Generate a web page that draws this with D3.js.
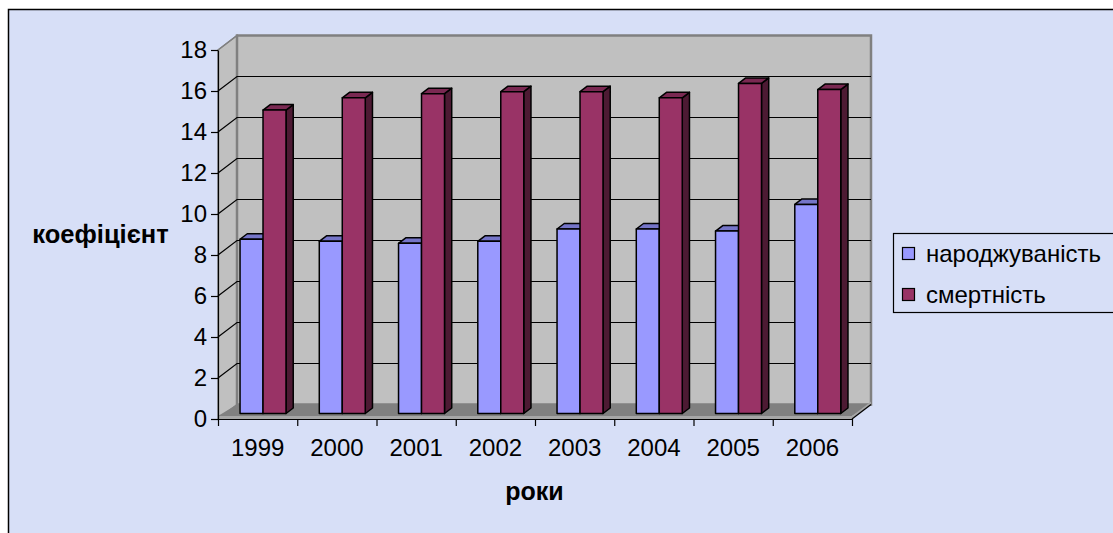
<!DOCTYPE html>
<html>
<head>
<meta charset="utf-8">
<script src="https://cdn.jsdelivr.net/npm/d3@7"></script>
<style>
  body { margin: 0; background: #fff; }
  svg { display: block; font-family: Arial, "Liberation Sans", sans-serif; }
</style>
</head>
<body>
<svg id="chart" width="1113" height="533"></svg>
<script>
var years = ['1999', '2000', '2001', '2002', '2003', '2004', '2005', '2006'];
var births = [8.5, 8.4, 8.3, 8.4, 9.0, 9.0, 8.9, 10.2];
var deaths = [14.8, 15.4, 15.6, 15.7, 15.7, 15.4, 16.1, 15.8];
var yTicks = [0, 2, 4, 6, 8, 10, 12, 14, 16, 18];
var seriesNames = ['народжуваність', 'смертність'];

var svg = d3.select('#chart');
var dep = [19, -14.5]; // depth vector of the 3D box
var fs = 24;

// chart area
svg.append('rect')
  .attr('x', 8.5).attr('y', 9.5).attr('width', 1200).attr('height', 600)
  .attr('fill', '#d7dff7').attr('stroke', '#000').attr('stroke-width', 1.5);

var x = d3.scaleBand().domain(years).range([218, 852]).padding(0);
var y = d3.scaleLinear().domain([0, 18]).range([419, 50]);

function P(px, py, f) { return [px + f * dep[0], py + f * dep[1]]; }
function poly(pts) { return 'M' + pts.map(function(p){ return p.join(','); }).join('L') + 'Z'; }

var x0 = x.range()[0], x1 = x.range()[1], yb = y(0), yt = y(18);

// left wall
svg.append('path')
  .attr('d', poly([P(x0, yt, 0), P(x0, yt, 1), P(x0, yb, 1), P(x0, yb, 0)]))
  .attr('fill', '#c0c0c0').attr('stroke', '#808080').attr('stroke-width', 1.5);
// back wall
svg.append('path')
  .attr('d', poly([P(x0, yt, 1), P(x1, yt, 1), P(x1, yb, 1), P(x0, yb, 1)]))
  .attr('fill', '#c0c0c0').attr('stroke', '#808080').attr('stroke-width', 2.5);

// gridlines
var grid = svg.append('g').attr('stroke', '#000').attr('stroke-width', 1.2);
yTicks.filter(function(t){ return t > 0 && t < 18; }).forEach(function(t) {
  var a = P(x0, y(t), 0), b = P(x0, y(t), 1), c = P(x1, y(t), 1);
  grid.append('path').attr('d', 'M' + a + 'L' + b + 'L' + c).attr('fill', 'none');
});
svg.append('path').attr('d', 'M' + P(x0, yt, 0) + 'L' + P(x0, yt, 1))
  .attr('stroke', '#808080').attr('stroke-width', 1.2);

// floor
svg.append('path')
  .attr('d', poly([P(x0, yb - 3, 0), P(x1, yb - 3, 0), P(x1, yb, 1), P(x0, yb, 1)]))
  .attr('fill', '#808080');
svg.append('path')
  .attr('d', poly([P(x0, yb, 0), P(x1, yb, 0), P(x1, yb, 1), P(x1, yb - 3, 1), P(x1, yb - 3, 0), P(x0, yb - 3, 0)]))
  .attr('fill', '#a6a6a6');
svg.append('path').attr('d', 'M' + P(x1, yb, 0) + 'L' + P(x1, yb, 1))
  .attr('stroke', '#000').attr('stroke-width', 1.2);

// bars
var f0 = 0.38, f1 = 0.76;
var bw = x.bandwidth() * 0.29;
var series = [
  { name: seriesNames[0], values: births, front: '#9999ff', top: '#7575c8', side: '#5a5aa0', off: 0.187 },
  { name: seriesNames[1], values: deaths, front: '#993366', top: '#7a2952', side: '#4d1a33', off: 0.187 + 0.29 }
];
var bars = svg.append('g').attr('stroke', '#000').attr('stroke-width', 1.5).attr('stroke-linejoin', 'round');
years.forEach(function(yr, i) {
  series.forEach(function(s) {
    var bx = x(yr) + x.bandwidth() * s.off;
    var by = y(s.values[i]);
    var g = bars.append('g');
    g.append('path').attr('fill', s.side)
      .attr('d', poly([P(bx + bw, by, f0), P(bx + bw, by, f1), P(bx + bw, yb, f1), P(bx + bw, yb, f0)]));
    g.append('path').attr('fill', s.top)
      .attr('d', poly([P(bx, by, f0), P(bx, by, f1), P(bx + bw, by, f1), P(bx + bw, by, f0)]));
    g.append('path').attr('fill', s.front)
      .attr('d', poly([P(bx, by, f0), P(bx + bw, by, f0), P(bx + bw, yb, f0), P(bx, yb, f0)]));
  });
});

// y axis
var yAxis = svg.append('g').attr('transform', 'translate(' + x0 + ',0)')
  .call(d3.axisLeft(y).tickValues(yTicks).tickSize(7).tickPadding(4).tickSizeOuter(0));
yAxis.selectAll('text').attr('font-size', fs).attr('fill', '#000').attr('font-family', 'Arial, "Liberation Sans", sans-serif');
yAxis.selectAll('line,path').attr('stroke', '#000').attr('stroke-width', 1.2);

// x axis: labels at centres, ticks at category boundaries
var xAxis = svg.append('g').attr('transform', 'translate(0,' + yb + ')')
  .call(d3.axisBottom(x).tickSize(0).tickPadding(20));
xAxis.selectAll('text').attr('font-size', fs).attr('fill', '#000').attr('font-family', 'Arial, "Liberation Sans", sans-serif');
xAxis.select('.domain').attr('stroke', '#000').attr('stroke-width', 1.2);
var xi = d3.scaleLinear().domain([0, years.length]).range([x0, x1]);
var xTickAxis = svg.append('g').attr('transform', 'translate(0,' + yb + ')')
  .call(d3.axisBottom(xi).ticks(years.length).tickFormat('').tickSize(7).tickSizeOuter(0));
xTickAxis.select('.domain').remove();
xTickAxis.selectAll('line').attr('stroke', '#000').attr('stroke-width', 1.2);

// axis titles
svg.append('text').attr('x', 100.5).attr('y', 243)
  .attr('text-anchor', 'middle').attr('font-size', 25.5).attr('font-weight', 'bold')
  .text('коефіцієнт');
svg.append('text').attr('x', 534.5).attr('y', 500)
  .attr('text-anchor', 'middle').attr('font-size', 25).attr('font-weight', 'bold')
  .text('роки');

// legend
var lg = svg.append('g');
lg.append('rect').attr('x', 893.5).attr('y', 233.5).attr('width', 240).attr('height', 79)
  .attr('fill', '#d7dff7').attr('stroke', '#000').attr('stroke-width', 1.2);
series.forEach(function(s, i) {
  var cy = 253.5 + i * 41;
  lg.append('rect').attr('x', 902.5).attr('y', cy - 6).attr('width', 12).attr('height', 12)
    .attr('fill', s.front).attr('stroke', '#000').attr('stroke-width', 1.2);
  lg.append('text').attr('x', 926).attr('y', cy).attr('dy', '0.35em')
    .attr('font-size', fs).text(s.name);
});
</script>
</body>
</html>
